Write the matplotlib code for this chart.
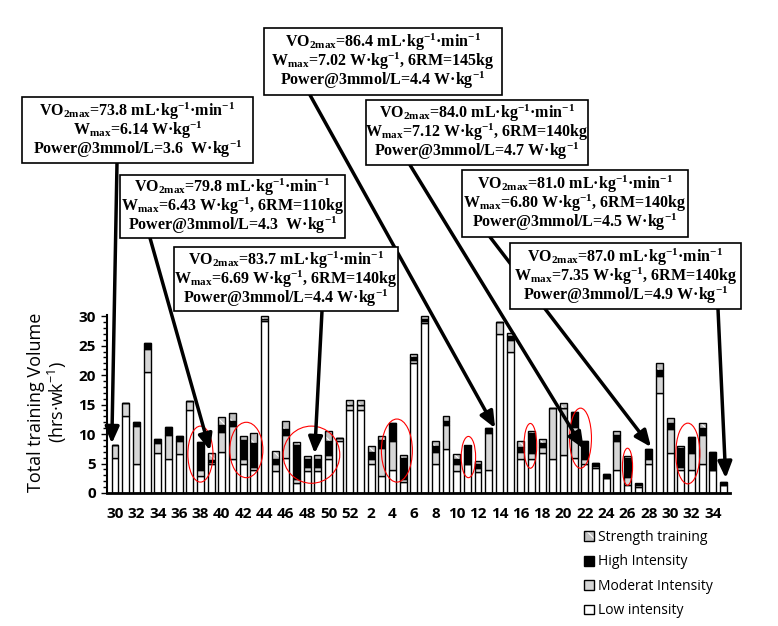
import matplotlib
matplotlib.use("Agg")
import matplotlib.pyplot as plt
from matplotlib.patches import Ellipse, Patch, Rectangle
from matplotlib.ticker import MultipleLocator
import numpy as np

# training weeks: 30..52 of the first year, then 1..35
weeks = list(range(30, 53)) + list(range(1, 36))

low = [6.0, 13.0, 5.0, 20.5, 6.8, 5.8, 6.6, 14.0, 2.9, 5.0, 7.0, 5.8, 4.9, 3.85, 29.1, 3.7, 6.0, 1.7, 3.7, 3.7,
       5.7, 8.9, 14.0, 14.0, 4.9, 2.8, 3.85, 1.9, 22.0, 28.8, 5.0, 7.4, 3.7, 4.9, 3.5, 3.85, 26.9, 23.9, 5.8, 5.8,
       6.8, 5.8, 6.4, 6.0, 5.0, 4.3, 2.5, 3.85, 1.3, 1.0, 4.9, 16.9, 6.8, 3.85, 3.85, 4.9, 3.85, 1.3]
moderate = [2.1, 2.2, 6.4, 4.0, 1.6, 4.1, 2.3, 1.6, 1.0, 0.3, 3.4, 5.5, 0.8, 0.55, 0.4, 1.2, 3.9, 0.7, 0.7, 0.7,
            0.7, 0.5, 0.9, 0.9, 0.8, 4.9, 4.95, 0.4, 0.6, 0.4, 2.0, 4.1, 1.2, 0.0, 0.7, 6.35, 2.1, 2.0, 1.2, 1.0,
            1.0, 8.7, 8.0, 5.2, 0.8, 0.2, 0.0, 5.05, 1.4, 0.4, 0.8, 2.9, 4.0, 0.55, 2.95, 4.9, 0.0, 0.0]
high = [0.0, 0.0, 0.6, 1.0, 0.7, 1.3, 0.7, 0.0, 4.8, 0.3, 1.1, 1.0, 3.3, 4.0, 0.0, 0.8, 1.0, 5.7, 1.3, 1.3,
        2.5, 0.0, 0.0, 0.0, 1.3, 1.3, 3.0, 3.7, 0.5, 0.4, 1.0, 0.8, 0.9, 3.0, 0.7, 0.9, 0.0, 0.7, 0.8, 3.3,
        0.7, 0.0, 0.0, 2.55, 3.1, 0.6, 0.8, 1.0, 3.2, 0.1, 1.8, 1.15, 1.0, 3.3, 2.7, 1.2, 3.15, 0.6]
strength = [0.0, 0.0, 0.0, 0.0, 0.0, 0.0, 0.0, 0.0, 0.0, 1.2, 1.4, 1.35, 0.6, 1.85, 0.5, 1.4, 1.3, 0.6, 0.5, 0.7,
            1.6, 0.0, 0.8, 0.8, 0.9, 0.6, 0.0, 0.4, 0.4, 0.4, 0.8, 0.7, 0.8, 0.2, 0.6, 0.0, 0.0, 0.5, 1.0, 0.4,
            0.6, 0.0, 0.8, 0.0, 0.0, 0.0, 0.0, 0.6, 0.4, 0.2, 0.0, 1.05, 1.0, 0.3, 0.0, 0.95, 0.0, 0.0]

# test results: text, box (left, top, right, bottom) in image px, arrow start x, arrow target (bar, hrs)
tests = [
    ("VO$_{2max}$=73.8 mL·kg$^{-1}$·min$^{-1}$\nW$_{max}$=6.14 W·kg$^{-1}$\nPower@3mmol/L=3.6  W·kg$^{-1}$",
     (22, 97, 253, 163), 117, (-0.3, 8.4)),
    ("VO$_{2max}$=79.8 mL·kg$^{-1}$·min$^{-1}$\nW$_{max}$=6.43 W·kg$^{-1}$, 6RM=110kg\nPower@3mmol/L=4.3  W·kg$^{-1}$",
     (120, 175, 345, 238), 150, (8.9, 7.2)),
    ("VO$_{2max}$=83.7 mL·kg$^{-1}$·min$^{-1}$\nW$_{max}$=6.69 W·kg$^{-1}$, 6RM=140kg\nPower@3mmol/L=4.4 W·kg$^{-1}$",
     (174, 247, 398, 311), 322, (18.7, 6.7)),
    ("VO$_{2max}$=86.4 mL·kg$^{-1}$·min$^{-1}$\nW$_{max}$=7.02 W·kg$^{-1}$, 6RM=145kg\nPower@3mmol/L=4.4 W·kg$^{-1}$",
     (264, 28, 502, 95), 310, (35.6, 11.0)),
    ("VO$_{2max}$=84.0 mL·kg$^{-1}$·min$^{-1}$\nW$_{max}$=7.12 W·kg$^{-1}$, 6RM=140kg\nPower@3mmol/L=4.7 W·kg$^{-1}$",
     (366, 100, 588, 165), 410, (43.9, 7.5)),
    ("VO$_{2max}$=81.0 mL·kg$^{-1}$·min$^{-1}$\nW$_{max}$=6.80 W·kg$^{-1}$, 6RM=140kg\nPower@3mmol/L=4.5 W·kg$^{-1}$",
     (462, 170, 688, 237), 490, (50.2, 7.8)),
    ("VO$_{2max}$=87.0 mL·kg$^{-1}$·min$^{-1}$\nW$_{max}$=7.35 W·kg$^{-1}$, 6RM=140kg\nPower@3mmol/L=4.9 W·kg$^{-1}$",
     (510, 243, 741, 309), 718, (57.2, 2.5)),
]

# red circles: centre bar, centre hrs, width (bars), height (hrs)
circles = [(8.0, 6.6, 2.35, 9.5), (12.3, 7.3, 3.1, 9.4), (18.4, 6.5, 5.3, 9.7), (26.4, 7.2, 2.9, 10.7),
           (33.1, 6.1, 1.35, 7.0), (38.9, 8.0, 1.2, 7.6), (43.6, 9.3, 2.05, 10.2), (48.0, 4.45, 0.95, 6.3),
           (53.65, 6.7, 2.25, 10.3)]

plt.rcParams["mathtext.default"] = "regular"
plt.rcParams["hatch.linewidth"] = 0.8

W, H = 778, 626
fig = plt.figure(figsize=(W / 100, H / 100), dpi=100)
ax = fig.add_axes([107 / W, 1 - 493 / H, 623 / W, 178 / H])

x = np.arange(len(weeks))
bw = 0.65
bottom = np.zeros(len(weeks))
ax.bar(x, low, bw, bottom=bottom, color="white", edgecolor="black", lw=1, zorder=2)
bottom += np.array(low)
ax.bar(x, moderate, bw, bottom=bottom, color="#d6d6d6", edgecolor="black", lw=1, zorder=2)
bottom += np.array(moderate)
ax.bar(x, high, bw, bottom=bottom, color="black", edgecolor="black", lw=1, zorder=2)
bottom += np.array(high)
ax.bar(x, strength, bw, bottom=bottom, color="#c0c0c0", edgecolor="white", hatch="\\\\\\", lw=0, zorder=2)
ax.bar(x, strength, bw, bottom=bottom, fill=False, edgecolor="black", lw=1, zorder=3)

for cx, cy, ew, eh in circles:
    ax.add_patch(Ellipse((cx, cy), ew, eh, fill=False, ec="red", lw=0.8, zorder=5, clip_on=False))

ax.set_xlim(-0.75, 57.6)
ax.set_ylim(0, 30.2)
for s in ["top", "right"]:
    ax.spines[s].set_visible(False)
ax.spines["left"].set_linewidth(1.5)
ax.spines["bottom"].set_linewidth(2)

tick_font = dict(family=["Open Sans", "DejaVu Sans"], weight="bold", size=11)
ax.set_xticks(x[::2])
ax.set_xticklabels([str(w) for w in weeks[::2]], fontdict=tick_font)
ax.set_yticks(range(0, 31, 5))
ax.set_yticklabels([str(v) for v in range(0, 31, 5)], fontdict=tick_font)
ax.yaxis.set_minor_locator(MultipleLocator(1))
ax.tick_params(axis="x", length=0, pad=10)
ax.tick_params(axis="y", which="major", length=4, width=1, pad=4)
ax.tick_params(axis="y", which="minor", length=3, width=1)

fig.text(48 / W, 1 - 402 / H, "Total training Volume\n(hrs·wk$^{-1}$)", rotation=90, ha="center", va="center",
         multialignment="center", family=["Open Sans", "DejaVu Sans"], size=13, linespacing=1.0)

# boxes with the test results and arrows to the test week
for text, (l, t, r, b), sx, target in tests:
    fig.patches.append(Rectangle((l / W, 1 - b / H), (r - l) / W, (b - t) / H, transform=fig.transFigure,
                                 facecolor="white", edgecolor="black", lw=1.2, zorder=6))
    fig.text((l + r) / 2 / W, 1 - (t + b) / 2 / H, text, ha="center", va="center", multialignment="center",
             family=["Liberation Serif", "DejaVu Serif"], weight="bold", size=11.5, linespacing=0.85, zorder=7)
    ax.annotate("", xy=target, xycoords="data", xytext=(sx, H - b), textcoords="figure pixels",
                arrowprops=dict(arrowstyle="-|>,head_length=0.7,head_width=0.3", color="black", lw=2.5,
                                shrinkA=0, shrinkB=0, mutation_scale=14),
                annotation_clip=False, zorder=8)

handles = [
    (Patch(facecolor="#c0c0c0", edgecolor="white", hatch="\\\\\\", lw=0), Patch(fill=False, edgecolor="black", lw=1)),
    Patch(facecolor="black", edgecolor="black", lw=1),
    Patch(facecolor="#d6d6d6", edgecolor="black", lw=1),
    Patch(facecolor="white", edgecolor="black", lw=1),
]
labels = ["Strength training", "High Intensity", "Moderat Intensity", "Low intensity"]
fig.legend(handles, labels, loc="upper left", bbox_to_anchor=(584 / W, 1 - 530 / H), frameon=False,
           prop=dict(family=["Open Sans", "DejaVu Sans"], size=10), handlelength=0.72, handleheight=0.72,
           handletextpad=0.3, labelspacing=0.68, borderpad=0, borderaxespad=0)

fig.savefig("out.png", dpi=100)
